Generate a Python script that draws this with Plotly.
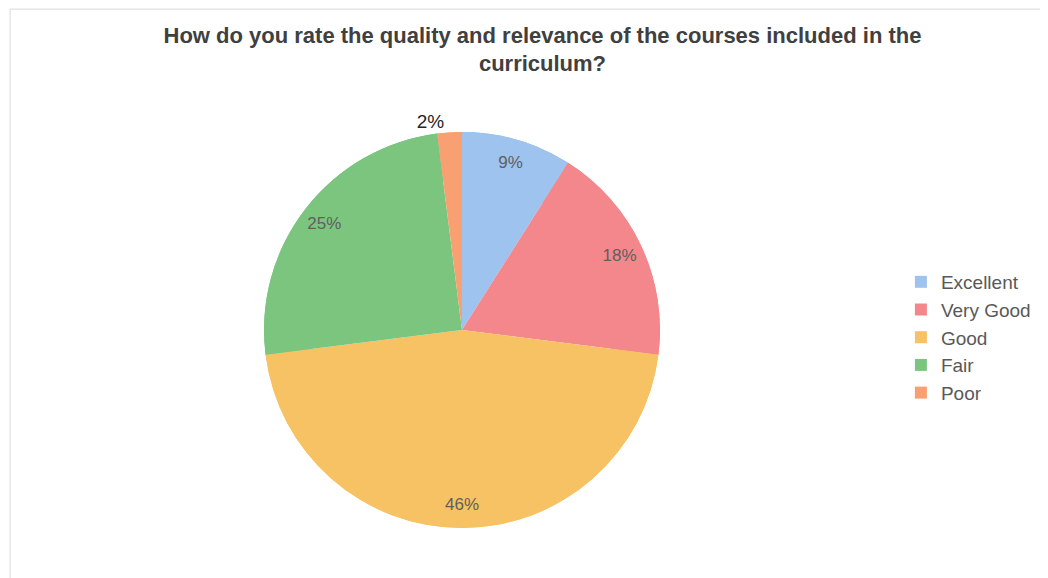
import plotly.graph_objects as go

labels = ['Excellent', 'Very Good', 'Good', 'Fair', 'Poor']
values = [9, 18, 46, 25, 2]
colors = ['#9DC3EE', '#F3878B', '#F7C263', '#7CC57F', '#F8A072']
positions = ['inside', 'inside', 'inside', 'inside', 'outside']

pie_domain = dict(x=[0.2443, 0.6221], y=[0.1003, 0.7855])

fig = go.Figure()
# full pie underneath (no text)
fig.add_trace(go.Pie(
    labels=labels, values=values, sort=False, direction='clockwise', rotation=0,
    marker=dict(colors=colors, line=dict(color='white', width=0)),
    textinfo='none', showlegend=False, hoverinfo='skip',
    domain=pie_domain,
))
# same pie as a ring on top, so the labels sit out toward the rim like Excel does
fig.add_trace(go.Pie(
    labels=labels, values=values, sort=False, direction='clockwise', rotation=0,
    hole=0.76,
    marker=dict(colors=colors, line=dict(color='white', width=0)),
    texttemplate='%{percent:.0%}', textposition=positions,
    insidetextorientation='horizontal',
    insidetextfont=dict(family='Liberation Sans, Arial', size=17, color='#5f5f5f'),
    outsidetextfont=dict(family='Liberation Sans, Arial', size=19, color='#262626'),
    domain=pie_domain,
    hoverinfo='label+percent',
))

fig.update_layout(
    width=1048, height=578,
    paper_bgcolor='white', plot_bgcolor='white',
    margin=dict(l=0, r=0, t=0, b=0),
    title=dict(
        text='<b>How do you rate the quality and relevance of the courses included in the<br>curriculum?</b>',
        x=0.51, xanchor='center', y=0.94, yanchor='top',
        font=dict(family='Liberation Sans, Arial', size=22, color='#404040'),
    ),
    legend=dict(
        x=0.852, y=0.43, xanchor='left', yanchor='middle',
        font=dict(family='Liberation Sans, Arial', size=19, color='#595959'),
        itemwidth=30,
    ),
    shapes=[dict(type='rect', xref='paper', yref='paper', x0=0.002, x1=0.998, y0=0.002, y1=0.998,
                 line=dict(color='#d9d9d9', width=1))],
)

fig.write_html('out.html')
